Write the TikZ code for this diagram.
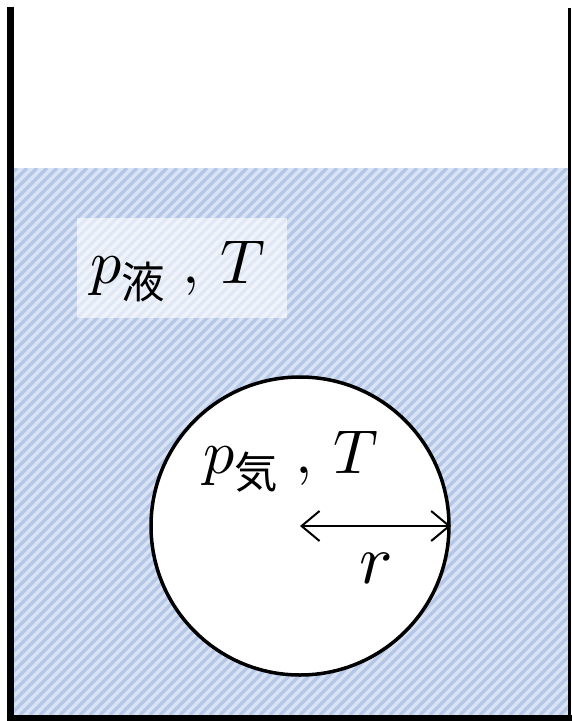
\documentclass[tikz,border=0pt]{standalone}
\usepackage{amsmath}
\usepackage{unicode-math}
\setmathfont{Latin Modern Math}
\newfontfamily\cjk{Noto Sans CJK JP}
\usetikzlibrary{arrows.meta}

\definecolor{waterbg}{HTML}{DAE3F3}
\definecolor{waterline}{HTML}{B4C7E7}

\tikzset{
    wall/.style={line width=#1, line cap=rect},
    label/.style={font=\fontsize{62}{72}\selectfont, inner sep=0pt},
    stripe/.style={waterline, line width=3.5pt},
    barb/.tip={Straight Barb[length=18pt,width=30pt]},
}

\begin{document}
\begin{tikzpicture}[x=1pt,y=-1pt]
        \useasboundingbox (0,0) rectangle (571,721);

        % water in the vessel
        \fill[waterbg] (14,168) rectangle (568,715);
        \begin{scope}
            \clip (14,168) rectangle (568,715);
            \foreach \s in {-540,-530,...,570}
                \draw[stripe] (\s,715) -- (\s+547,168);
        \end{scope}

        % vessel
        \draw[wall=7pt] (10.5,10.5) -- (10.5,717.5);
        \draw[wall=6pt] (10.5,718) -- (569.5,718);
        \draw[wall=3pt] (569.5,9.5) -- (569.5,718);

        % bubble
        \node[circle, draw, line width=3.5pt, fill=white, minimum size=298pt, inner sep=0pt] (bubble) at (300,526) {};

        % labels
        \node[fill=white, fill opacity=0.6, text opacity=1, minimum width=210pt, minimum height=100pt] (liquid) at (182,268) {};
        \node[label] (pliquid) at (178,272) {$p_{\text{\cjk 液}}\;,\,T$};
        \node[label] (pgas) at (291,462) {$p_{\text{\cjk 気}}\;,\,T$};

        \draw[line width=2pt, barb-barb]
            (bubble.center) -- node[label, font=\fontsize{70}{80}\selectfont, below=26pt] (radius) {$r$} (bubble.east);

\end{tikzpicture}
\end{document}
